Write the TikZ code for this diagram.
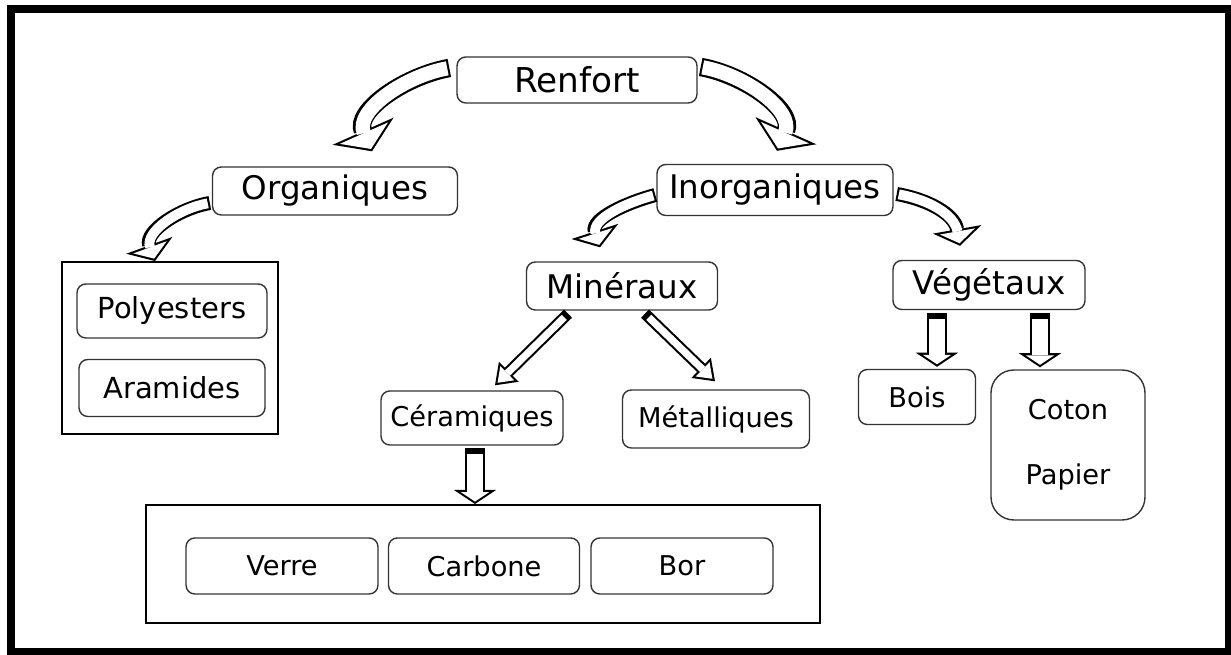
\documentclass[tikz,border=0pt]{standalone}
\usepackage{fontspec}
\setmainfont{DejaVu Sans}
\usetikzlibrary{arrows.meta,calc}

\begin{document}
\begin{tikzpicture}[
    x=0.02cm, y=0.02cm,
    box/.style={
      draw=black!80,
      line width=0.8pt,
      rounded corners=5pt,
      fill=white,
      inner sep=0pt
    },
    big/.style={box, font=\fontsize{18.5}{22}\selectfont},
    small/.style={box, font=\fontsize{15.5}{18}\selectfont},
    group/.style={
      draw=black,
      line width=1.1pt,
      inner sep=0pt
    },
    % hollow arrows: black body, white copy on top
    bigbend/.style={
      line width=10.5pt,
      -{Triangle[length=12.5pt,width=38pt,line width=0pt 0 0]},
      postaction={draw=white, line width=8.1pt, shorten <=1.2pt, shorten >=1.44pt,
        -{Triangle[length=9.86pt,width=29.97pt,line width=0pt 0 0]}}
    },
    smallbend/.style={
      line width=8pt,
      -{Triangle[length=9.5pt,width=28pt,line width=0pt 0 0]},
      postaction={draw=white, line width=5.6pt, shorten <=1.2pt, shorten >=1.45pt,
        -{Triangle[length=6.85pt,width=20.2pt,line width=0pt 0 0]}}
    },
    slant/.style={
      line width=6.5pt,
      -{Triangle[length=11pt,width=16pt,line width=0pt 0 0]},
      postaction={draw=white, line width=4.1pt, shorten <=3pt, shorten >=2.04pt,
        -{Triangle[length=7.76pt,width=11.3pt,line width=0pt 0 0]}}
    },
    down/.style={
      line width=11pt,
      -{Triangle[length=8pt,width=24pt,line width=0pt 0 0]},
      postaction={draw=white, line width=8.6pt, shorten <=3.5pt, shorten >=1.44pt,
        -{Triangle[length=5.36pt,width=16.1pt,line width=0pt 0 0]}}
    }
  ]

    \useasboundingbox (0,0) rectangle (1231,655);

    % frame
    \fill[black] (7,0) rectangle (1231,650);
    \fill[white] (15,7) rectangle (1225,642);

    % top levels
    \node[box, font=\fontsize{19.5}{22}\selectfont, minimum width=4.8cm, minimum height=0.92cm] (renfort) at (577,575) {Renfort};
    \node[big, minimum width=4.9cm, minimum height=0.96cm] (organiques) at (335,464) {Organiques};
    \node[big, minimum width=4.72cm, minimum height=1.02cm] (inorganiques) at (775,465) {Inorganiques};
    \node[big, minimum width=3.82cm, minimum height=0.96cm] (mineraux) at (622,369) {Minéraux};
    \node[big, minimum width=3.84cm, minimum height=0.98cm] (vegetaux) at (989,370) {Végétaux};

    % organic fibres
    \node[group, minimum width=4.32cm, minimum height=3.44cm] (organicbox) at (170,307) {};
    \node[small, font=\fontsize{16.5}{18}\selectfont, minimum width=3.8cm, minimum height=1.08cm] (polyesters) at (172,344) {Polyesters};
    \node[small, font=\fontsize{16.5}{18}\selectfont, minimum width=3.72cm, minimum height=1.14cm] (aramides) at (172,267) {Aramides};

    % mineral and vegetable fibres
    \node[small, minimum width=3.64cm, minimum height=1.08cm] (ceramiques) at (472,237) {Céramiques};
    \node[small, minimum width=3.74cm, minimum height=1.16cm] (metalliques) at (716,236) {Métalliques};
    \node[small, minimum width=2.34cm, minimum height=1.1cm] (bois) at (917,258) {Bois};
    \node[small, rounded corners=13pt, align=center, minimum width=3.08cm, minimum height=3cm] (coton) at (1068,210) {Coton\\[19pt]Papier};

    % ceramic fibres
    \node[group, minimum width=13.48cm, minimum height=2.36cm] (ceramicbox) at (483,91) {};
    \node[small, minimum width=3.84cm, minimum height=1.12cm] (verre) at (282,89) {Verre};
    \node[small, minimum width=3.82cm, minimum height=1.12cm] (carbone) at (484,89) {Carbone};
    \node[small, minimum width=3.64cm, minimum height=1.12cm] (bor) at (682,89) {Bor};

    % curved arrows
    \draw[bigbend] ($(renfort.west)+(-7,12)$) to[out=190, in=114] ($(organiques.north)+(37,15)$);
    \draw[bigbend] ($(renfort.east)+(3,13)$) to[out=-10, in=66] ($(inorganiques.north)+(2,13)$);
    \draw[smallbend] ($(organiques.west)+(-2,-12)$) to[out=190, in=110] ($(organicbox.north)+(-15,0)$);
    \draw[smallbend] ($(inorganiques.west)+(-1,-5)$) to[out=195, in=108] ($(mineraux.north)+(-22,14)$);
    \draw[smallbend] ($(inorganiques.east)+(3,-4)$) to[out=-10, in=100] ($(vegetaux.north)+(-29,14)$);

    % straight arrows
    \draw[slant] ($(mineraux.south)+(-54,-3)$) -- ($(ceramiques.north)+(23,5)$);
    \draw[slant] ($(mineraux.south)+(23,-3)$) -- ($(metalliques.north)+(-1,8)$);
    \draw[down] ($(vegetaux.south)+(-52,-3)$) -- ($(bois.north)+(20,2)$);
    \draw[down] ($(vegetaux.south)+(51,-3)$) -- ($(coton.north)+(-28,2)$);
    \draw[down] ($(ceramiques.south)+(3,-2)$) -- ($(ceramicbox.north)+(-8,0)$);

  \end{tikzpicture}
\end{document}
